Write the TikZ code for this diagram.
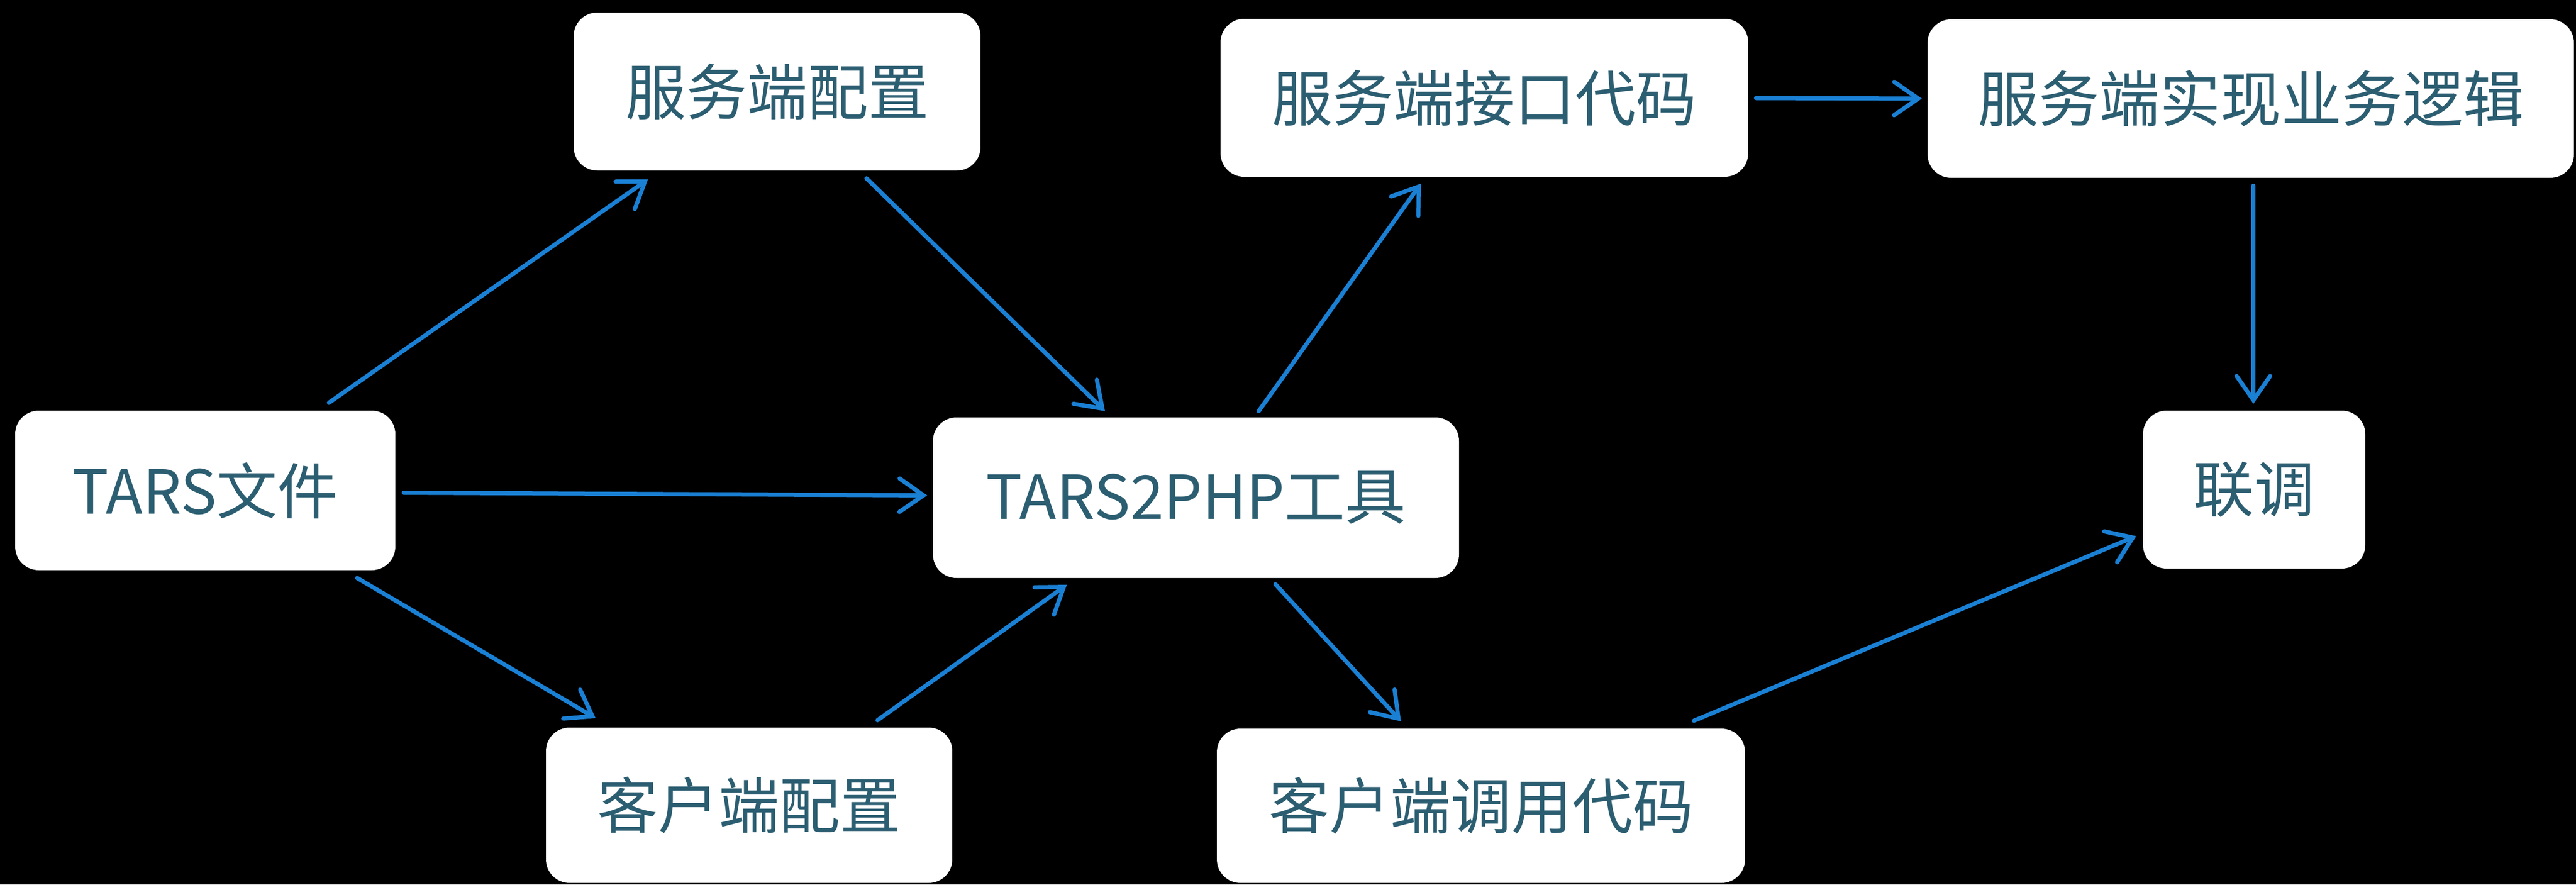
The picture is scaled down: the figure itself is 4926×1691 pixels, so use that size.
\documentclass[tikz,border=0pt]{standalone}
\usepackage{fontspec}
\setmainfont{Noto Sans CJK SC}
\usetikzlibrary{arrows.meta}
\definecolor{txtc}{RGB}{44,94,114}
\definecolor{arrc}{RGB}{26,128,212}
\begin{document}
\begin{tikzpicture}[x=0.1pt,y=-0.1pt,
  box/.style={fill=white, draw=none, rounded corners=4.5pt, inner sep=0pt,
    text=txtc, font=\fontsize{11.6pt}{13pt}\selectfont},
  arr/.style={draw=arrc, line width=0.8pt, line cap=round,
    -{Straight Barb[length=4.6pt,width=6.4pt,line cap=round]}}]
\fill[black] (0,0) rectangle (4926,1691);
\useasboundingbox (0,0) rectangle (4926,1691);
\node[box, minimum width=72.7pt, minimum height=30.5pt] (tars) at (392.5,937.5) {TARS文件};
\node[box, minimum width=77.8pt, minimum height=30.2pt] (sconf) at (1486,175) {服务端配置};
\node[box, minimum width=77.7pt, minimum height=29.7pt] (cconf) at (1432.5,1539.5) {客户端配置};
\node[box, minimum width=100.6pt, minimum height=30.7pt] (tool) at (2287,951.5) {TARS2PHP工具};
\node[box, minimum width=100.9pt, minimum height=30.2pt] (sif) at (2838.5,187) {服务端接口代码};
\node[box, minimum width=123.6pt, minimum height=30.3pt] (impl) at (4304,188.5) {服务端实现业务逻辑};
\node[box, minimum width=42.5pt, minimum height=30.2pt] (lt) at (4310.5,936) {联调};
\node[box, minimum width=101pt, minimum height=29.5pt] (ccall) at (2832,1540.5) {客户端调用代码};
\draw[arr] ([shift={(236.5,-167.5)}]tars.center) -- ([shift={(-247,168)}]sconf.center);
\draw[arr] ([shift={(171,166)}]sconf.center) -- ([shift={(-174,-165.5)}]tool.center);
\draw[arr] ([shift={(379.5,4.5)}]tars.center) -- ([shift={(-514,-4.5)}]tool.center);
\draw[arr] ([shift={(290.5,167.5)}]tars.center) -- ([shift={(-293.5,-166.5)}]cconf.center);
\draw[arr] ([shift={(245.5,-162.5)}]cconf.center) -- ([shift={(-247,166.5)}]tool.center);
\draw[arr] ([shift={(120,-165.5)}]tool.center) -- ([shift={(-121.5,164)}]sif.center);
\draw[arr] ([shift={(152,165.5)}]tool.center) -- ([shift={(-153,-161.5)}]ccall.center);
\draw[arr] ([shift={(519.5,0.5)}]sif.center) -- ([shift={(-629,0)}]impl.center);
\draw[arr] ([shift={(5,166.5)}]impl.center) -- ([shift={(-1.5,-164)}]lt.center);
\draw[arr] ([shift={(407,-162.5)}]ccall.center) -- ([shift={(-225.5,89)}]lt.center);
\end{tikzpicture}
\end{document}
